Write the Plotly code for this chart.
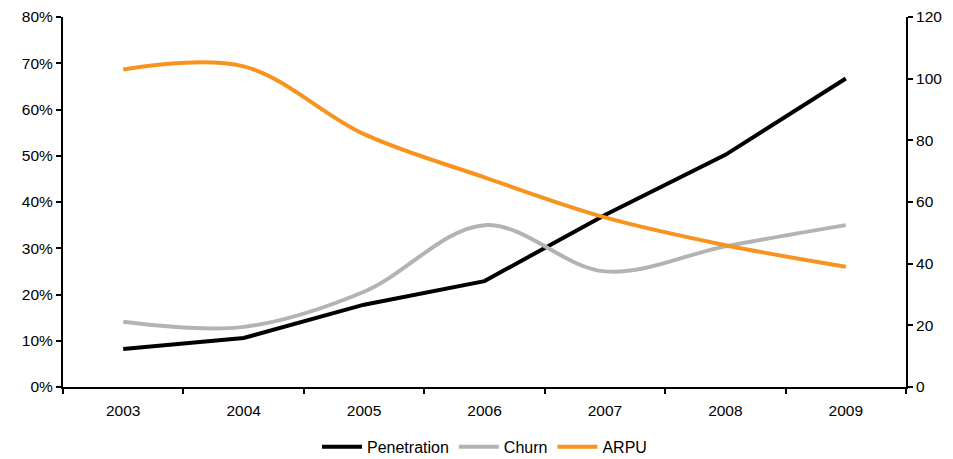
import plotly.graph_objects as go

years = ["2003", "2004", "2005", "2006", "2007", "2008", "2009"]
penetration = [8.2, 10.6, 17.8, 22.9, 37.2, 50.2, 66.7]   # % of population
churn = [14.1, 13.0, 20.6, 35.0, 25.0, 30.4, 35.0]         # %
arpu = [103.0, 104.0, 82.0, 68.0, 55.0, 46.0, 39.0]         # right axis

FONT = "Liberation Sans, Arial, sans-serif"

fig = go.Figure()
fig.add_trace(go.Scatter(x=years, y=penetration, name="Penetration", mode="lines",
                         line=dict(color="#000000", width=4)))
fig.add_trace(go.Scatter(x=years, y=churn, name="Churn", mode="lines",
                         line=dict(color="#B3B3B3", width=4, shape="spline", smoothing=1.0)))
fig.add_trace(go.Scatter(x=years, y=arpu, name="ARPU", mode="lines", yaxis="y2",
                         line=dict(color="#F7931E", width=4, shape="spline", smoothing=1.0)))

axis_common = dict(showgrid=False, zeroline=False, showline=True, linecolor="#000000",
                   linewidth=2, ticks="outside", ticklen=5, tickwidth=2, tickcolor="#000000",
                   tickfont=dict(family=FONT, size=15.5, color="#000000"))

fig.update_layout(
    width=953, height=459,
    margin=dict(l=63, r=47, t=17, b=72, autoexpand=False),
    paper_bgcolor="white", plot_bgcolor="white",
    font=dict(family=FONT, size=15.5, color="#000000"),
    xaxis=dict(type="category", tickson="boundaries", range=[-0.5, 6.5],
               ticklabelstandoff=8, **axis_common),
    yaxis=dict(range=[0, 80], dtick=10, ticksuffix="%", **axis_common),
    yaxis2=dict(range=[0, 120], dtick=20, overlaying="y", side="right", **axis_common),
    showlegend=True,
    legend=dict(orientation="h", x=0.5, xanchor="center", y=-0.162, yanchor="middle",
                font=dict(family=FONT, size=16, color="#000000"), itemwidth=40,
                tracegroupgap=0, bgcolor="rgba(0,0,0,0)"),
)

fig.write_html("out.html")
